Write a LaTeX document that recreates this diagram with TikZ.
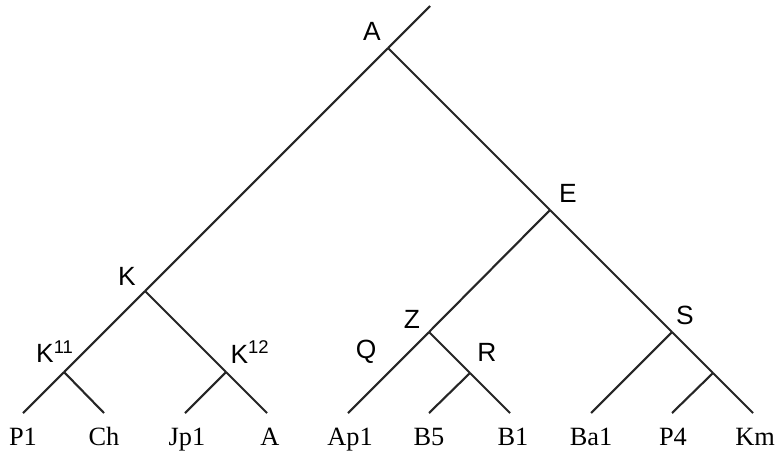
\documentclass[tikz,border=0pt]{standalone}
\usepackage{fontspec}
\setmainfont{Liberation Serif}
\setsansfont{Liberation Sans}
\usetikzlibrary{positioning}

\begin{document}
\begin{tikzpicture}[
        x=0.02cm, y=-0.02cm,
        branch/.style = {line width=1.2pt, black!85},
        leaf/.style   = {anchor=base, inner sep=0pt, font=\fontsize{15}{18}\selectfont},
        clade/.style  = {inner sep=0pt, font=\sffamily\fontsize{15}{18}\selectfont},
    ]
        \useasboundingbox (0,0) rectangle (783,457);

        % ---- inner nodes of the tree ----
        \coordinate (top)  at (430,6);
        \coordinate (rA)   at (388,48);
        \coordinate (nK)   at (145,291);
        \coordinate (nK11) at (64,372);
        \coordinate (nK12) at (226,372);
        \coordinate (nE)   at (550,210);
        \coordinate (nZ)   at (429,332);
        \coordinate (nR)   at (470,373);
        \coordinate (nS)   at (672,332);
        \coordinate (nP)   at (713,373);

        % ---- leaves: line end + name below ----
        \foreach \name/\x/\tx in {P1/23/23, Ch/104/104, Jp1/185/187, A/267/270,
                                  Ap1/348/350, B5/429/429, B1/510/513,
                                  Ba1/591/591, P4/672/673, Km/753/755} {
            \coordinate (l\name) at (\x,413);
            \node[leaf] (t\name) at (\tx,445) {\name};
        }

        % ---- branches ----
        \draw[branch] (top) -- (rA);
        \draw[branch] (rA) -- (nK);
        \draw[branch] (rA) -- (nE);
        \draw[branch] (nK) -- (nK11);
        \draw[branch] (nK) -- (nK12);
        \draw[branch] (nK11) -- (lP1);
        \draw[branch] (nK11) -- (lCh);
        \draw[branch] (nK12) -- (lJp1);
        \draw[branch] (nK12) -- (lA);
        \draw[branch] (nE) -- (nZ);
        \draw[branch] (nE) -- (nS);
        \draw[branch] (nZ) -- (lAp1);
        \draw[branch] (nZ) -- (nR);
        \draw[branch] (nR) -- (lB5);
        \draw[branch] (nR) -- (lB1);
        \draw[branch] (nS) -- (lBa1);
        \draw[branch] (nS) -- (nP);
        \draw[branch] (nP) -- (lP4);
        \draw[branch] (nP) -- (lKm);

        % ---- clade labels ----
        \node[clade] (labA)   at (372,31)  {A};
        \node[clade] (labE)   at (568,193) {E};
        \node[clade] (labK)   at (127,276) {K};
        \node[clade] (labK11) at (55,352)  {K\textsuperscript{11}};
        \node[clade] (labK12) at (250,352) {K\textsuperscript{12}};
        \node[clade] (labZ)   at (412,319) {Z};
        \node[clade] (labQ)   at (366,352) {Q};
        \node[clade] (labR)   at (487,352) {R};
        \node[clade] (labS)   at (685,315) {S};
    \end{tikzpicture}
\end{document}
